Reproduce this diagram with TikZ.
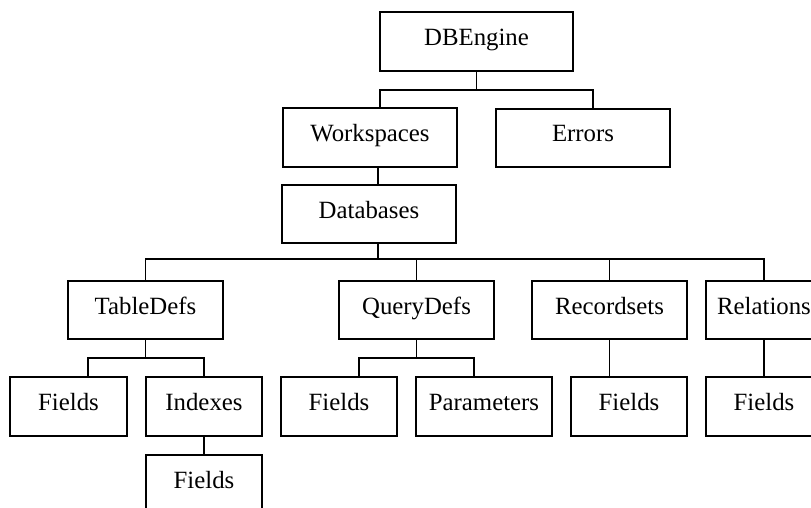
\documentclass[tikz,border=0pt]{standalone}
\usepackage{fontspec}
\setmainfont{Liberation Serif}
\begin{document}
\begin{tikzpicture}[x=1pt,y=-1pt,line width=1.7pt,
  box/.style={draw,rectangle,inner sep=0pt,minimum height=58.5pt,
    text height=16pt,text depth=8pt,
    font=\fontsize{24.8}{28}\selectfont},
  link/.style={draw,line width=1.6pt}]
\clip (0,0) rectangle (811,508);

% top of the hierarchy
\node[box,minimum width=193pt] (dbe)  at (476.5,41.5) {DBEngine};
\node[box,minimum width=174pt] (ws)   at (370,137.5)  {Workspaces};
\node[box,minimum width=174pt] (err)  at (583,138)    {Errors};
\node[box,minimum width=174pt] (dbs)  at (369,214)    {Databases};

% collections of a database
\node[box,minimum width=155pt] (tdef) at (145.5,310)  {TableDefs};
\node[box,minimum width=155pt] (qdef) at (416.5,310)  {QueryDefs};
\node[box,minimum width=155pt] (rset) at (609.5,310)  {Recordsets};
\node[box,minimum width=116pt] (rel)  at (764,310)    {Relations};

% lowest levels
\node[box,minimum width=117pt] (tfld) at (68.5,406.5) {Fields};
\node[box,minimum width=116pt] (idx)  at (204,406.5)  {Indexes};
\node[box,minimum width=116pt] (qfld) at (339,406.5)  {Fields};
\node[box,minimum width=136pt] (par)  at (484,406.5)  {Parameters};
\node[box,minimum width=116pt] (rfld) at (629,406.5)  {Fields};
\node[box,minimum width=116pt] (lfld) at (764,406.5)  {Fields};
\node[box,minimum width=116pt] (ifld) at (204,484.5)  {Fields};

% bar heights
\coordinate (b1) at (0,90);
\coordinate (b2) at (0,259);
\coordinate (b3) at (0,358);

% connector feet that sit off the box centres
\coordinate (wsin)  at ([xshift=10pt]ws.north);
\coordinate (errin) at ([xshift=10pt]err.north);
\coordinate (wsout) at ([xshift=8pt]ws.south);
\coordinate (dbsin) at ([xshift=9pt]dbs.north);
\coordinate (dbsout) at ([xshift=9pt]dbs.south);
\coordinate (tfldin) at ([xshift=19.5pt]tfld.north);
\coordinate (qfldin) at ([xshift=20pt]qfld.north);
\coordinate (parin)  at ([xshift=-10pt]par.north);

% DBEngine -> Workspaces, Errors
\draw[link] (dbe.south) -- (dbe.south |- b1);
\draw[link] (wsin) |- (b1 -| errin) -- (errin);

% Workspaces -> Databases
\draw[link] (wsout) -- (dbsin);

% Databases -> collections
\draw[link] (dbsout) -- (dbsout |- b2);
\draw[link] (tdef.north) |- (b2 -| rel.north) -- (rel.north);
\draw[link] (qdef.north) -- (qdef.north |- b2);
\draw[link] (rset.north) -- (rset.north |- b2);

% TableDefs -> Fields, Indexes
\draw[link] (tdef.south) -- (tdef.south |- b3);
\draw[link] (tfldin) |- (b3 -| idx.north) -- (idx.north);

% QueryDefs -> Fields, Parameters
\draw[link] (qdef.south) -- (qdef.south |- b3);
\draw[link] (qfldin) |- (b3 -| parin) -- (parin);

% Recordsets, Relations, Indexes -> Fields
\draw[link] (rset.south) -- (rset.south |- rfld.north);
\draw[link] (rel.south) -- (lfld.north);
\draw[link] (idx.south) -- (ifld.north);
\end{tikzpicture}
\end{document}
